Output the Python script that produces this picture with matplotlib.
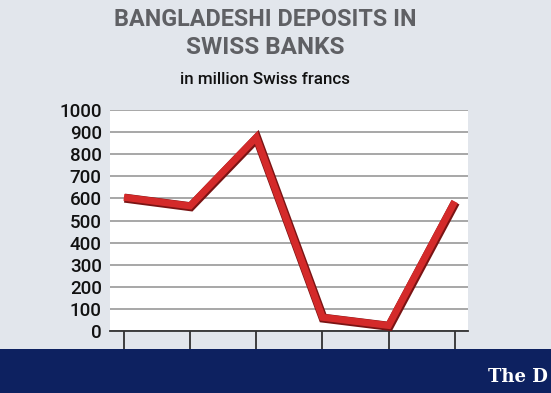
import matplotlib
matplotlib.use("Agg")
import matplotlib.pyplot as plt
import matplotlib.patheffects as pe
from matplotlib.patches import Rectangle

# data (million Swiss francs)
positions = [0, 1, 2, 3, 4, 5]
deposits = [605, 566, 876, 62, 25, 586]
y_ticks = [0, 100, 200, 300, 400, 500, 600, 700, 800, 900, 1000]

BG = "#e2e6ec"
NAVY = "#0d2160"
RED = "#d42a2a"
FONT = ["Roboto", "DejaVu Sans"]

fig = plt.figure(figsize=(5.51, 3.93), dpi=100)
fig.patch.set_facecolor(BG)
renderer = fig.canvas.get_renderer()


def fit_text(x, y, s, width_px, **kw):
    # put text at pixel (x, y from top) and size it to the wanted width
    t = fig.text(x/551, 1 - y/393, s, **kw)
    w = t.get_window_extent(renderer).width
    t.set_fontsize(t.get_fontsize() * width_px / w)
    return t


# navy footer band
fig.patches.append(Rectangle((0, 0), 1, 44/393, transform=fig.transFigure,
                             facecolor=NAVY, edgecolor="none", zorder=0))
fit_text(488, 377, "The D", 60, color="white", fontsize=16,
         family="DejaVu Serif", fontweight="bold", va="center", ha="left")

# titles
fit_text(265, 20, "BANGLADESHI DEPOSITS IN", 302, ha="center", va="center",
         fontsize=20, fontweight="bold", color="#5f6064", family=FONT)
fit_text(265, 47, "SWISS BANKS", 158, ha="center", va="center",
         fontsize=20, fontweight="bold", color="#5f6064", family=FONT)
fit_text(265, 80, "in million Swiss francs", 172, ha="center", va="center",
         fontsize=14, color="#111111", family=FONT, fontweight="medium")

ax = fig.add_axes([110/551, 62/393, 358/551, 221/393])
ax.set_facecolor("white")
ax.plot(positions, deposits, color=RED, lw=5, solid_joinstyle="miter",
        solid_capstyle="butt", zorder=3,
        path_effects=[pe.Stroke(linewidth=6.5, foreground="#7a1414", offset=(0.5, -0.6)),
                      pe.Normal()])

ax.set_ylim(0, 1000)
ax.set_xlim(-0.21, 5.2)
ax.set_yticks(y_ticks)
ax.set_yticklabels([str(v) for v in y_ticks], family=FONT, fontsize=13.5,
                   color="#111111", fontweight="medium")
ax.yaxis.grid(True, color="#a0a0a0", lw=1.3)
ax.set_axisbelow(True)
ax.tick_params(axis="y", length=0, pad=6)
ax.set_xticks(positions)
ax.set_xticklabels([])
ax.tick_params(axis="x", direction="out", length=13, width=1.2, color="#222222")

for s in ["top", "right", "left"]:
    ax.spines[s].set_visible(False)
ax.spines["bottom"].set_color("#333333")
ax.spines["bottom"].set_linewidth(1.3)

fig.savefig("out.png", dpi=100, facecolor=BG)
